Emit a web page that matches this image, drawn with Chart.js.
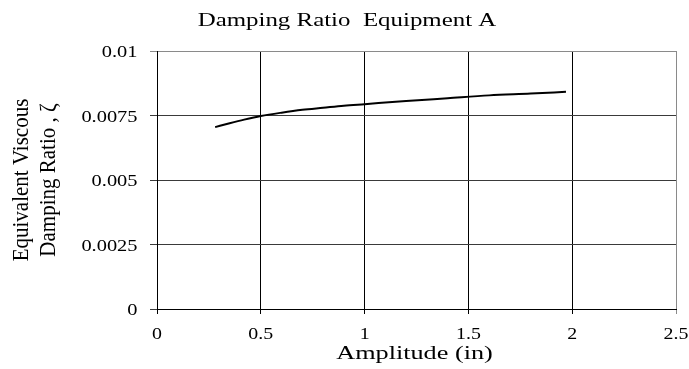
<!DOCTYPE html>
<html>
<head>
<meta charset="utf-8">
<script src="https://cdn.jsdelivr.net/npm/chart.js@4/dist/chart.umd.min.js"></script>
<style>
html,body{margin:0;padding:0;background:#fff;}
canvas{display:block;}
</style>
</head>
<body>
<canvas id="c" width="689" height="369"></canvas>
<script>
const chartTitle = 'Damping Ratio  Equipment A';
const xAxisTitle = 'Amplitude (in)';
const yAxisTitleLines = ['Equivalent Viscous', 'Damping Ratio , \u03B6'];
const amplitude = [0.28, 0.35, 0.42, 0.5, 0.6, 0.7, 0.8, 0.9, 1.0, 1.2, 1.4, 1.6, 1.8, 1.97];
const dampingRatio = [0.00705, 0.00720, 0.00734, 0.00748, 0.00761, 0.00772, 0.00780, 0.00788, 0.00794, 0.00806, 0.00817, 0.00828, 0.00835, 0.00842];
const xTickLabels = ['0', '0.5', '1', '1.5', '2', '2.5'];
const yTickLabels = ['0', '0.0025', '0.005', '0.0075', '0.01'];

const serif = '"Liberation Serif", "Times New Roman", serif';

function stretchedText(ctx, text, x, y, sx, align) {
  ctx.save();
  ctx.textAlign = align;
  ctx.textBaseline = 'alphabetic';
  ctx.translate(x, y);
  ctx.scale(sx, 1);
  ctx.fillText(text, 0, 0);
  ctx.restore();
}

const textPlugin = {
  id: 'texts',
  afterDraw(chart) {
    const ctx = chart.ctx;
    const area = chart.chartArea;
    const xs = chart.scales.x, ys = chart.scales.y;
    ctx.save();
    ctx.fillStyle = '#000';
    // main title
    ctx.font = '19px ' + serif;
    stretchedText(ctx, chartTitle, 347, 26, 1.31, 'center');
    // x axis title
    ctx.font = '19px ' + serif;
    stretchedText(ctx, xAxisTitle, (area.left + area.right) / 2 - 2, 359, 1.38, 'center');
    // tick labels
    ctx.font = '17px ' + serif;
    xs.ticks.forEach((t, i) => {
      stretchedText(ctx, xTickLabels[i], xs.getPixelForValue(t.value), 338.5, 1.17, 'center');
    });
    ys.ticks.forEach((t, i) => {
      stretchedText(ctx, yTickLabels[i], 137.5, ys.getPixelForValue(t.value) + 6, 1.2, 'right');
    });
    // y axis title
    const cy = (area.top + area.bottom) / 2;
    const bx = [27.5, 55];
    ctx.font = '21px ' + serif;
    yAxisTitleLines.forEach((t, i) => {
      ctx.save();
      ctx.textAlign = 'center';
      ctx.textBaseline = 'alphabetic';
      ctx.translate(bx[i], cy);
      ctx.rotate(-Math.PI / 2);
      ctx.scale(1, 1.12);
      ctx.fillText(t, 0, 0);
      ctx.restore();
    });
    ctx.restore();
  }
};

new Chart(document.getElementById('c'), {
  type: 'line',
  data: {
    datasets: [{
      data: amplitude.map((a, i) => ({x: a, y: dampingRatio[i]})),
      borderColor: '#000',
      borderWidth: 2,
      pointRadius: 0,
      fill: false,
      cubicInterpolationMode: 'monotone'
    }]
  },
  options: {
    responsive: false,
    animation: false,
    devicePixelRatio: 1,
    layout: {padding: {left: 0, right: 13, top: 51, bottom: 0}},
    plugins: {legend: {display: false}, title: {display: false}, tooltip: {enabled: false}},
    scales: {
      x: {
        type: 'linear',
        min: 0, max: 2.5,
        afterFit(s) { s.height = 60; s.paddingLeft = 0; s.paddingRight = 0; },
        border: {display: true, color: '#000', width: 1},
        grid: {
          color: (c) => (c.tick && c.tick.value === 2.5) ? '#8a8a8a' : '#000',
          lineWidth: 1,
          tickLength: 5,
          drawTicks: true
        },
        ticks: {stepSize: 0.5, display: false},
        title: {display: false}
      },
      y: {
        type: 'linear',
        min: 0, max: 0.01,
        afterFit(s) { s.width = 157; s.paddingTop = 0; s.paddingBottom = 0; },
        border: {display: true, color: '#000', width: 1},
        grid: {
          color: (c) => (c.tick && Math.abs(c.tick.value - 0.01) < 1e-9) ? '#8a8a8a' : '#3a3a3a',
          lineWidth: 1,
          tickLength: 7,
          drawTicks: true
        },
        ticks: {stepSize: 0.0025, display: false},
        title: {display: false}
      }
    }
  },
  plugins: [textPlugin]
});
</script>
</body>
</html>
